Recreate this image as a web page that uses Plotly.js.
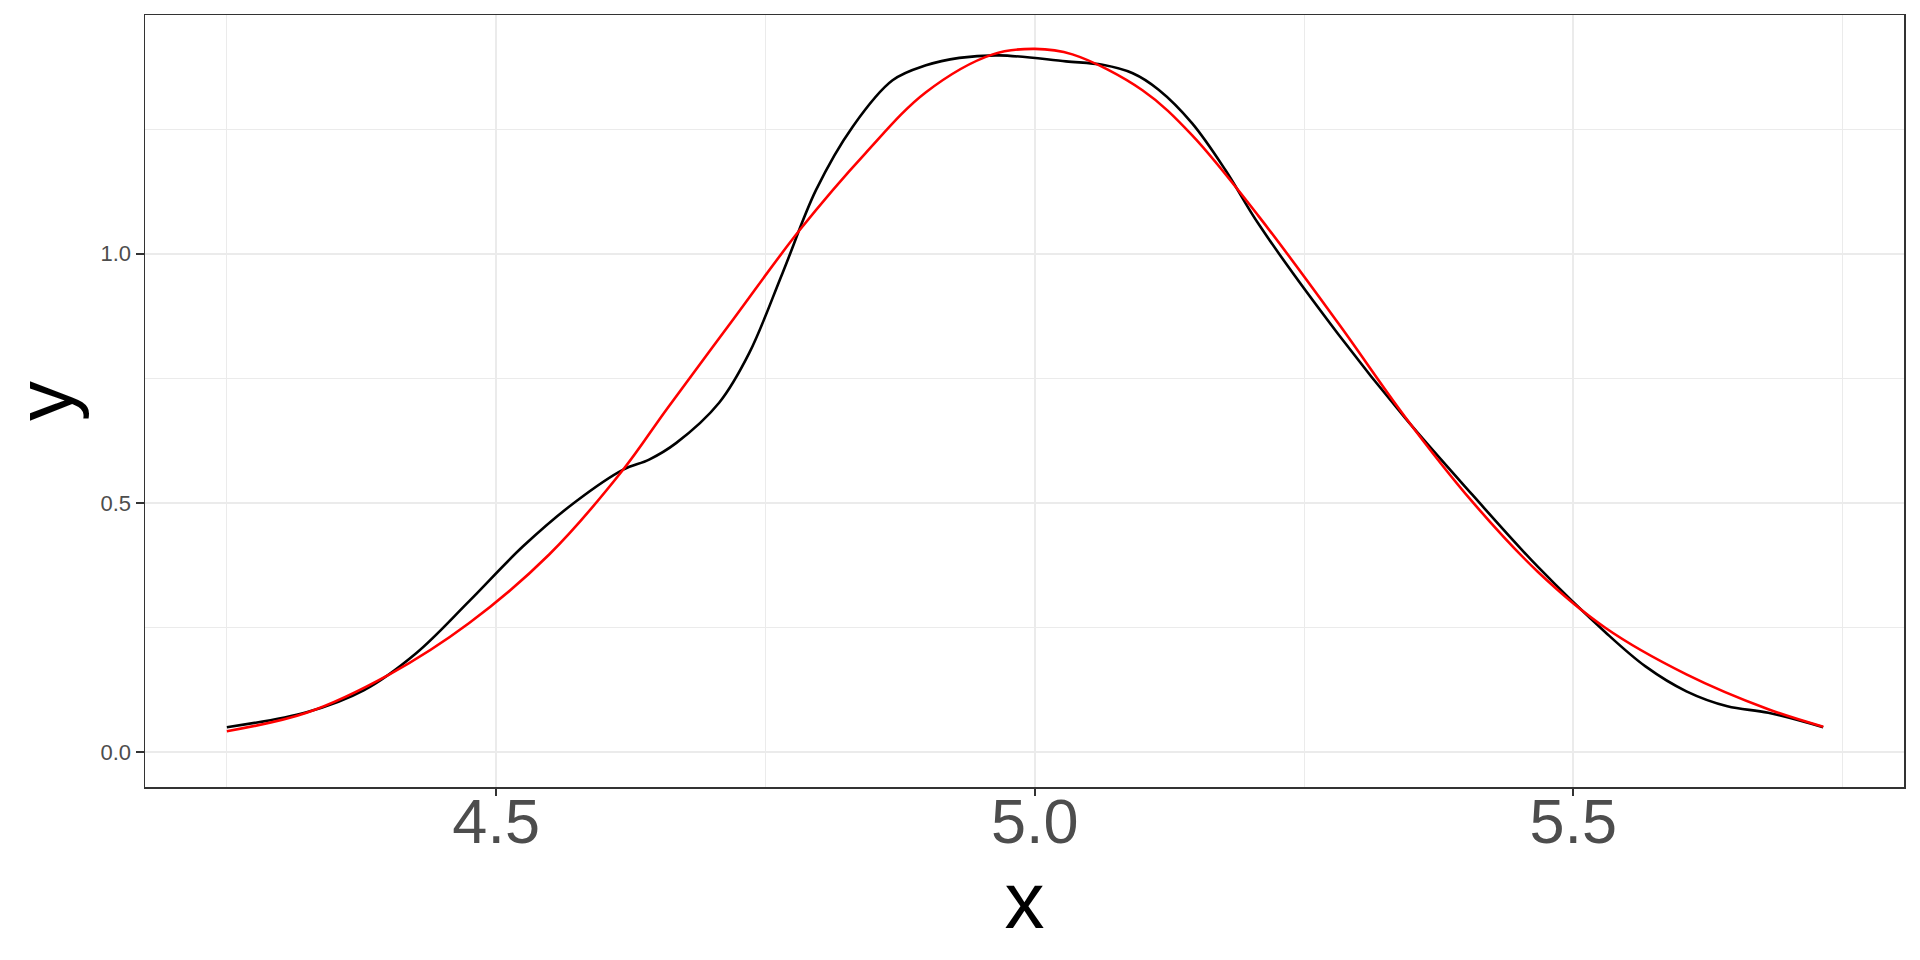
<!DOCTYPE html>
<html>
<head>
<meta charset="utf-8">
<script src="https://cdn.plot.ly/plotly-3.0.1.min.js"></script>
<style>
  html, body { margin: 0; padding: 0; background: #ffffff; }
  #chart { width: 1920px; height: 960px; }
</style>
</head>
<body>
<div id="chart"></div>
<script>
const densityX = [4.250, 4.324, 4.377, 4.426, 4.475, 4.525, 4.574, 4.618, 4.642, 4.667,
  4.707, 4.735, 4.766, 4.797, 4.831, 4.868, 4.899, 4.930, 4.967, 5.029,
  5.063, 5.091, 5.115, 5.146, 5.177, 5.208, 5.282, 5.344, 5.406, 5.467,
  5.530, 5.567, 5.605, 5.643, 5.681, 5.732];
const densityY = [0.050, 0.080, 0.124, 0.199, 0.303, 0.413, 0.503, 0.567, 0.587, 0.620,
  0.701, 0.801, 0.962, 1.128, 1.255, 1.348, 1.378, 1.393, 1.398, 1.386,
  1.379, 1.362, 1.329, 1.262, 1.168, 1.059, 0.838, 0.670, 0.517, 0.372,
  0.240, 0.172, 0.122, 0.092, 0.079, 0.050];

// fitted normal curve (red)
const normalX = [4.250, 4.324, 4.401, 4.475, 4.549, 4.618, 4.658, 4.720, 4.782, 4.843,
  4.899, 4.961, 5.000, 5.035, 5.100, 5.146, 5.208, 5.282, 5.344, 5.406,
  5.467, 5.530, 5.605, 5.681, 5.732];
const normalY = [0.042, 0.079, 0.156, 0.259, 0.396, 0.567, 0.687, 0.868, 1.048, 1.202,
  1.324, 1.400, 1.411, 1.400, 1.328, 1.238, 1.075, 0.860, 0.672, 0.503,
  0.362, 0.249, 0.156, 0.086, 0.051];

const xRange = [4.174, 5.807];
const yRange = [-0.07, 1.479];

const FONT = "Liberation Sans, Arial, Helvetica, sans-serif";
const GRID = "#ebebeb";

const densityTrace = {
  type: "scatter",
  mode: "lines",
  x: densityX,
  y: densityY,
  line: { color: "#000000", width: 2.6, shape: "spline", smoothing: 1 },
  hoverinfo: "skip",
};

const normalTrace = {
  type: "scatter",
  mode: "lines",
  x: normalX,
  y: normalY,
  line: { color: "#ff0000", width: 2.6, shape: "spline", smoothing: 1 },
  hoverinfo: "skip",
};

const layout = {
  width: 1920,
  height: 960,
  margin: { l: 145, r: 16, t: 15, b: 173 },
  paper_bgcolor: "#ffffff",
  plot_bgcolor: "#ffffff",
  showlegend: false,
  font: { family: FONT },
  xaxis: {
    range: xRange,
    tick0: 0,
    dtick: 0.5,
    tickformat: ".1f",
    ticks: "outside",
    ticklen: 7,
    tickwidth: 2,
    tickcolor: "#333333",
    tickfont: { size: 63, color: "#4d4d4d", family: FONT },
    ticklabelstandoff: -28,
    showgrid: true,
    gridcolor: GRID,
    gridwidth: 2,
    minor: { dtick: 0.25, showgrid: true, gridcolor: GRID, gridwidth: 1 },
    zeroline: false,
    showline: true,
    mirror: true,
    linecolor: "#333333",
    linewidth: 1.5,
    title: { text: "x", font: { size: 80, color: "#000000", family: FONT }, standoff: 14 },
  },
  yaxis: {
    range: yRange,
    tick0: 0,
    dtick: 0.5,
    tickformat: ".1f",
    ticks: "outside",
    ticklen: 8,
    tickwidth: 2,
    tickcolor: "#333333",
    tickfont: { size: 22, color: "#4d4d4d", family: FONT },
    showgrid: true,
    gridcolor: GRID,
    gridwidth: 2,
    minor: { dtick: 0.25, showgrid: true, gridcolor: GRID, gridwidth: 1 },
    zeroline: false,
    showline: true,
    mirror: true,
    linecolor: "#333333",
    linewidth: 1.5,
    title: { text: "y", font: { size: 80, color: "#000000", family: FONT }, standoff: 6 },
  },
};

const config = { displayModeBar: false, staticPlot: true };

Plotly.newPlot("chart", [densityTrace, normalTrace], layout, config);
</script>
</body>
</html>
